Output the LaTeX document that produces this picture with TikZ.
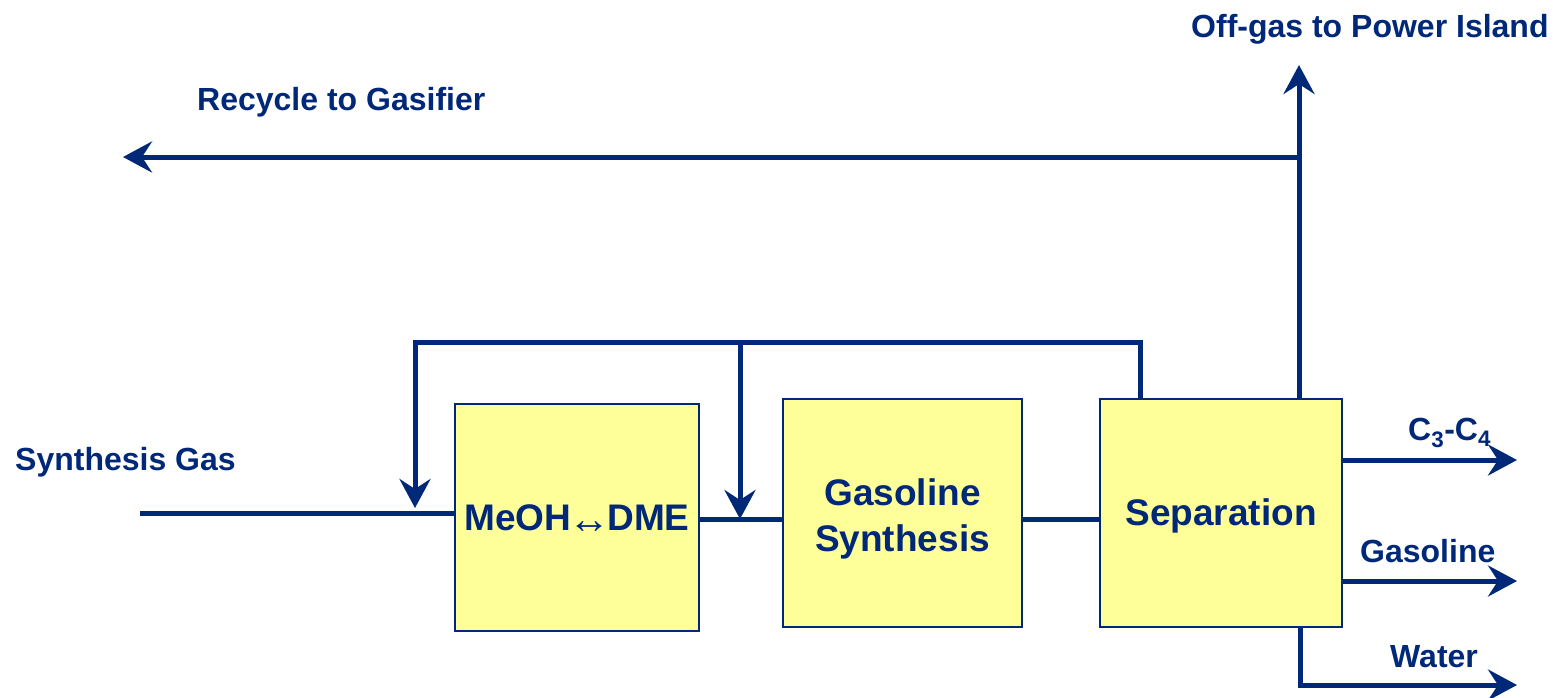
\documentclass[tikz,border=0pt]{standalone}
\usepackage{fontspec}
\setmainfont{Liberation Sans}
\usetikzlibrary{arrows.meta}
\definecolor{navy}{RGB}{0, 40, 120}
\definecolor{boxyellow}{RGB}{255, 255, 153}
\tikzstyle{flow} = [line width=5pt, draw=navy, line join=miter]
\tikzstyle{stream} = [flow, -{Stealth[length=29pt, width=31pt, inset=10pt]}]
\tikzstyle{unit} = [draw=navy, fill=boxyellow, line width=1.5pt, text=navy, align=center,
    font=\fontsize{37}{46}\selectfont\bfseries]
\tikzstyle{tag} = [text=navy, anchor=base west, inner sep=0pt,
    font=\fontsize{32}{38}\selectfont\bfseries]

\begin{document}
\begin{tikzpicture}[x=1pt, y=-1pt]
        \useasboundingbox (0,0) rectangle (1553,697);

        % Process blocks
        \node (meoh) at (577,517.5) [unit, minimum width=244pt, minimum height=227pt]
            {MeOH\kern-3pt\raisebox{-3pt}[0pt][0pt]{\mdseries\fontsize{42}{42}\selectfont ↔}\kern-3pt DME};
        \node (gsyn) at (902.5,513) [unit, minimum width=239pt, minimum height=228pt]
            {\raisebox{-6pt}[\height][\depth]{\begin{tabular}{@{}c@{}}Gasoline\\Synthesis\end{tabular}}};
        \node (sep) at (1221,513) [unit, minimum width=242pt, minimum height=228pt]
            {\raisebox{-3pt}[\height][\depth]{Separation}};

        % Stream labels
        \node (lfeed) at (15,470) [tag] {Synthesis Gas};
        \node (lrec) at (197,110) [tag] {Recycle to Gasifier};
        \node (loff) at (1191,37) [tag] {Off-gas to Power Island};
        \node (lc34) at (1408,440) [tag] {C\textsubscript{3}-C\textsubscript{4}};
        \node (lgas) at (1360,562) [tag] {Gasoline};
        \node (lwat) at (1390,667) [tag] {Water};

        % Free ends and bends
        \coordinate (feed) at (140,513);
        \coordinate (loopL) at (415,342);
        \coordinate (loopR) at (1140,342);
        \coordinate (inA) at (415,508);
        \coordinate (inB) at (740,519);
        \coordinate (offTip) at (1299,65);
        \coordinate (recStart) at (1297,157);
        \coordinate (recTip) at (123,157);
        \coordinate (c34Tip) at (1517,460);
        \coordinate (gasTip) at (1517,581);
        \coordinate (watTurn) at (1300,685);
        \coordinate (watTip) at (1517,685);

        % Main line
        \draw [flow] (feed) -- (feed -| meoh.west);
        \draw [flow] (meoh.east |- inB) -- (gsyn.west |- inB);
        \draw [flow] (gsyn.east |- inB) -- (sep.west |- inB);

        % Recycle loop
        \draw [stream] (sep.north -| loopR) -- (loopR) -- (loopL) -- (inA);
        \draw [stream] (inB |- loopL) -- (inB);

        % Products
        \draw [stream] (sep.north -| offTip) -- (offTip);
        \draw [stream] (recStart) -- (recTip);
        \draw [stream] (sep.east |- c34Tip) -- (c34Tip);
        \draw [stream] (sep.east |- gasTip) -- (gasTip);
        \draw [stream] (sep.south -| watTurn) -- (watTurn) -- (watTip);
    \end{tikzpicture}
\end{document}
